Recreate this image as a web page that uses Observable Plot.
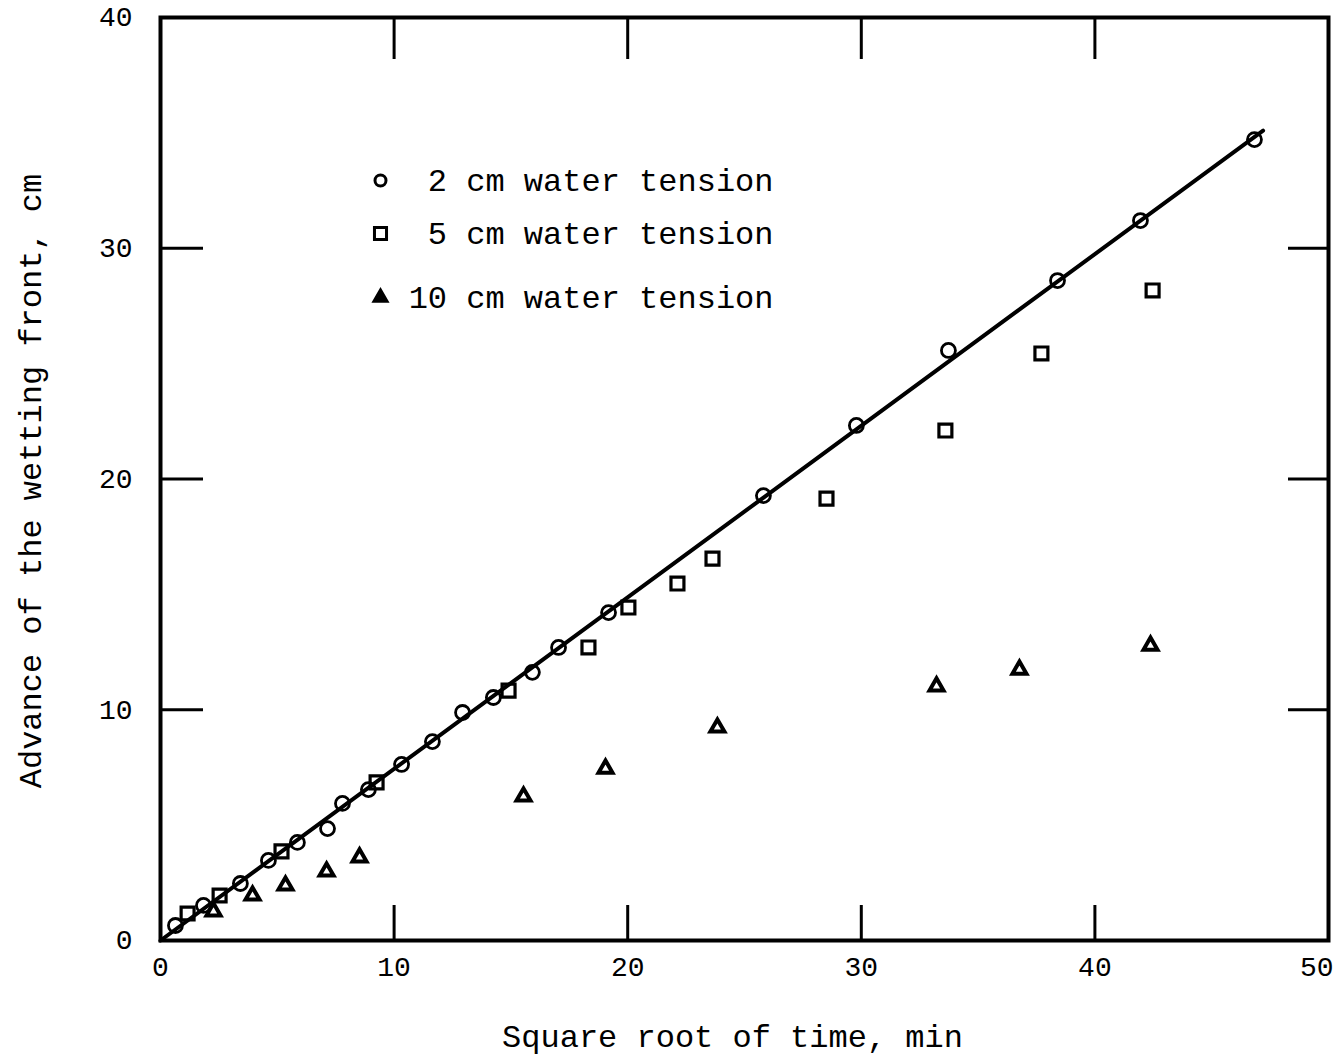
<!DOCTYPE html>
<html>
<head>
<meta charset="utf-8">
<script src="https://cdn.jsdelivr.net/npm/d3@7"></script>
<script src="https://cdn.jsdelivr.net/npm/@observablehq/plot@0.6"></script>
<style>
html, body { margin: 0; padding: 0; background: #fff; }
#chart svg { display: block; }
</style>
</head>
<body>
<div id="chart"></div>
<script>
// ---- data ----
const tension2X = [0.64, 1.84, 3.42, 4.62, 5.86, 7.15, 7.79, 8.90, 10.32, 11.64, 12.93, 14.25, 15.92, 17.04, 19.18, 25.81, 29.79, 33.73, 38.40, 41.95, 46.83];
const tension2Y = [0.65, 1.52, 2.47, 3.47, 4.25, 4.85, 5.94, 6.54, 7.63, 8.62, 9.88, 10.53, 11.62, 12.70, 14.21, 19.28, 22.32, 25.57, 28.60, 31.20, 34.71];

const tension5X = [1.16, 2.53, 5.18, 9.25, 14.90, 18.32, 20.03, 22.13, 23.63, 28.51, 33.60, 37.71, 42.47];
const tension5Y = [1.17, 1.95, 3.86, 6.85, 10.83, 12.70, 14.43, 15.47, 16.55, 19.15, 22.10, 25.44, 28.17];

const tension10X = [2.27, 3.94, 5.35, 7.11, 8.52, 15.54, 19.05, 23.84, 33.22, 36.77, 42.38];
const tension10Y = [1.26, 1.95, 2.38, 2.99, 3.60, 6.24, 7.45, 9.23, 11.01, 11.74, 12.78];

// fitted straight line through the 2 cm data
const fitX = [0, 47.2];
const fitY = [0, 35.1];

const xTicks = [0, 10, 20, 30, 40];
const xLastTick = [50];
const yTicks = [0, 10, 20, 30, 40];
const xInnerTicks = [10, 20, 30, 40];
const yInnerTicks = [10, 20, 30];

const legendLabels = ["2 cm water tension", "5 cm water tension", "10 cm water tension"];
const xLabel = "Square root of time, min";
const yLabel = "Advance of the wetting front, cm";

// ---- build tables ----
const zipXY = (xs, ys) => xs.map((x, i) => ({x, y: ys[i]}));
const s2 = zipXY(tension2X, tension2Y);
const s5 = zipXY(tension5X, tension5Y);
const s10 = zipXY(tension10X, tension10Y);
const fit = zipXY(fitX, fitY);

const W = 1338, H = 1059;
const mL = 160, mR = 10, mT = 17, mB = 119;
const plotH = H - mT - mB;
const plotW = W - mL - mR;
const font = "'Liberation Mono', 'Courier New', Courier, monospace";

const legendRows = [163, 216, 280];
const legendSymbols = ["circle", "square", "triangle"];
const legendR = [5.5, 6.8, 4.8];
const legendFill = ["none", "none", "black"];

const marks = [
  // tick labels
  Plot.axisX(xTicks, {tickSize: 0, tickPadding: 16, fontSize: 28, label: null}),
  Plot.axisX(xLastTick, {tickSize: 0, tickPadding: 16, fontSize: 28, label: null, textAnchor: "end", dx: 5}),
  Plot.axisY(yTicks, {tickSize: 0, tickPadding: 28, fontSize: 28, label: null}),
  // inward ticks on all four sides
  Plot.ruleX(xInnerTicks, {x: d => d, insetTop: plotH - 35, strokeWidth: 3}),
  Plot.ruleX(xInnerTicks, {x: d => d, insetBottom: plotH - 42, strokeWidth: 3}),
  Plot.ruleY(yInnerTicks, {y: d => d, insetRight: plotW - 43, strokeWidth: 3}),
  Plot.ruleY(yInnerTicks, {y: d => d, insetLeft: plotW - 40, strokeWidth: 3}),
  Plot.frame({stroke: "black", strokeWidth: 4}),
  // fitted line
  Plot.line(fit, {x: "x", y: "y", stroke: "black", strokeWidth: 4}),
  // data
  Plot.dot(s2, {x: "x", y: "y", symbol: "circle", r: 7, stroke: "black", strokeWidth: 2.8, fill: "none"}),
  Plot.dot(s5, {x: "x", y: "y", symbol: "square", r: 7.3, stroke: "black", strokeWidth: 3.2, fill: "none"}),
  Plot.dot(s10, {x: "x", y: "y", symbol: "triangle", r: 5.2, stroke: "black", strokeWidth: 4, fill: "none"}),
  // axis titles
  Plot.text([xLabel], {text: d => d, frameAnchor: "bottom", textAnchor: "middle", dx: -12, dy: 96, fontSize: 32, lineAnchor: "middle"}),
  Plot.text([yLabel], {text: d => d, frameAnchor: "left", textAnchor: "middle", dx: -130, dy: 2, rotate: -90, fontSize: 32, lineAnchor: "middle"})
];

legendLabels.forEach((lab, i) => {
  marks.push(Plot.dot([0], {frameAnchor: "top-left", dx: 220, dy: legendRows[i], symbol: legendSymbols[i], r: legendR[i], stroke: "black", strokeWidth: 3, fill: legendFill[i]}));
  marks.push(Plot.text([lab], {text: d => d, frameAnchor: "top-left", dx: 613, dy: legendRows[i], textAnchor: "end", lineAnchor: "middle", fontSize: 32}));
});

const chart = Plot.plot({
  width: W,
  height: H,
  marginLeft: mL,
  marginRight: mR,
  marginTop: mT,
  marginBottom: mB,
  style: {fontFamily: font, background: "white", color: "black"},
  x: {domain: [0, 50], axis: null},
  y: {domain: [0, 40], axis: null},
  marks
});
document.getElementById("chart").appendChild(chart);
</script>
</body>
</html>
